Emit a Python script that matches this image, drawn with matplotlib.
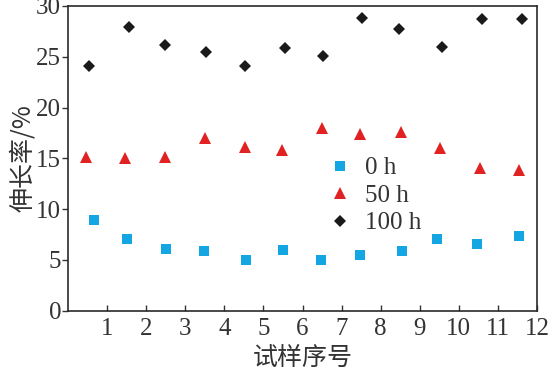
import matplotlib
matplotlib.use("Agg")
import matplotlib.pyplot as plt

# Data
x_0h = [0.66, 1.50, 2.52, 3.49, 4.56, 5.51, 6.47, 7.47, 8.54, 9.44, 10.46, 11.53]
y_0h = [8.93, 7.06, 6.07, 5.90, 4.96, 5.97, 5.02, 5.45, 5.90, 7.03, 6.60, 7.32]

x_50h = [0.46, 1.45, 2.48, 3.51, 4.52, 5.48, 6.49, 7.47, 8.52, 9.53, 10.54, 11.54]
y_50h = [15.16, 15.00, 15.13, 16.97, 16.11, 15.82, 17.95, 17.39, 17.56, 16.04, 14.05, 13.88]

x_100h = [0.54, 1.56, 2.49, 3.53, 4.52, 5.56, 6.52, 7.53, 8.48, 9.57, 10.59, 11.62]
y_100h = [24.11, 27.95, 26.15, 25.43, 24.11, 25.89, 25.04, 28.84, 27.76, 25.92, 28.71, 28.68]

series_labels = ["0 h", "50 h", "100 h"]
x_ticks = list(range(1, 13))
y_ticks = [0, 5, 10, 15, 20, 25, 30]

txt = "#333333"
serif = ["Liberation Serif", "DejaVu Serif"]
cjk = ["Noto Sans CJK SC", "DejaVu Sans"]

fig = plt.figure(figsize=(5.5, 3.77), dpi=100)
ax = fig.add_axes([68/550, 1 - 310.7/377, (537-68)/550, (310.7-6)/377])

ax.plot(x_0h, y_0h, linestyle="none", marker="s", markersize=6.8,
        color="#14a5e3", markeredgewidth=0, label=series_labels[0])
ax.plot(x_50h, y_50h, linestyle="none", marker="^", markersize=8,
        color="#e02222", markeredgewidth=0, label=series_labels[1])
ax.plot(x_100h, y_100h, linestyle="none", marker="D", markersize=6.5,
        color="#1a1a1a", markeredgewidth=0, label=series_labels[2])

ax.set_xlim(0, 12)
ax.set_ylim(0, 30)
ax.set_xticks(x_ticks)
ax.set_yticks(y_ticks)
ax.tick_params(axis="x", direction="in", length=4, width=1, pad=5, colors=txt, labelsize=18)
ax.tick_params(axis="y", direction="out", length=4, width=1, pad=1, colors=txt, labelsize=18)
for lab in ax.get_xticklabels() + ax.get_yticklabels():
    lab.set_family(serif)
for sp in ax.spines.values():
    sp.set_color("#2a2a2a")
    sp.set_linewidth(1.2)

ax.set_xlabel("试样序号", family=cjk, fontsize=18, color=txt, labelpad=4, fontweight="light")
ax.set_ylabel("伸长率/%", family=cjk, fontsize=18, color=txt, labelpad=0, fontweight="light")

leg = ax.legend(loc="upper left", bbox_to_anchor=(0.563, 0.505), frameon=False,
                prop={"family": serif, "size": 18}, handlelength=0.6,
                handletextpad=0.7, labelspacing=0.2, borderaxespad=0, borderpad=0)
for t in leg.get_texts():
    t.set_color(txt)

fig.savefig("out.png", dpi=100)
